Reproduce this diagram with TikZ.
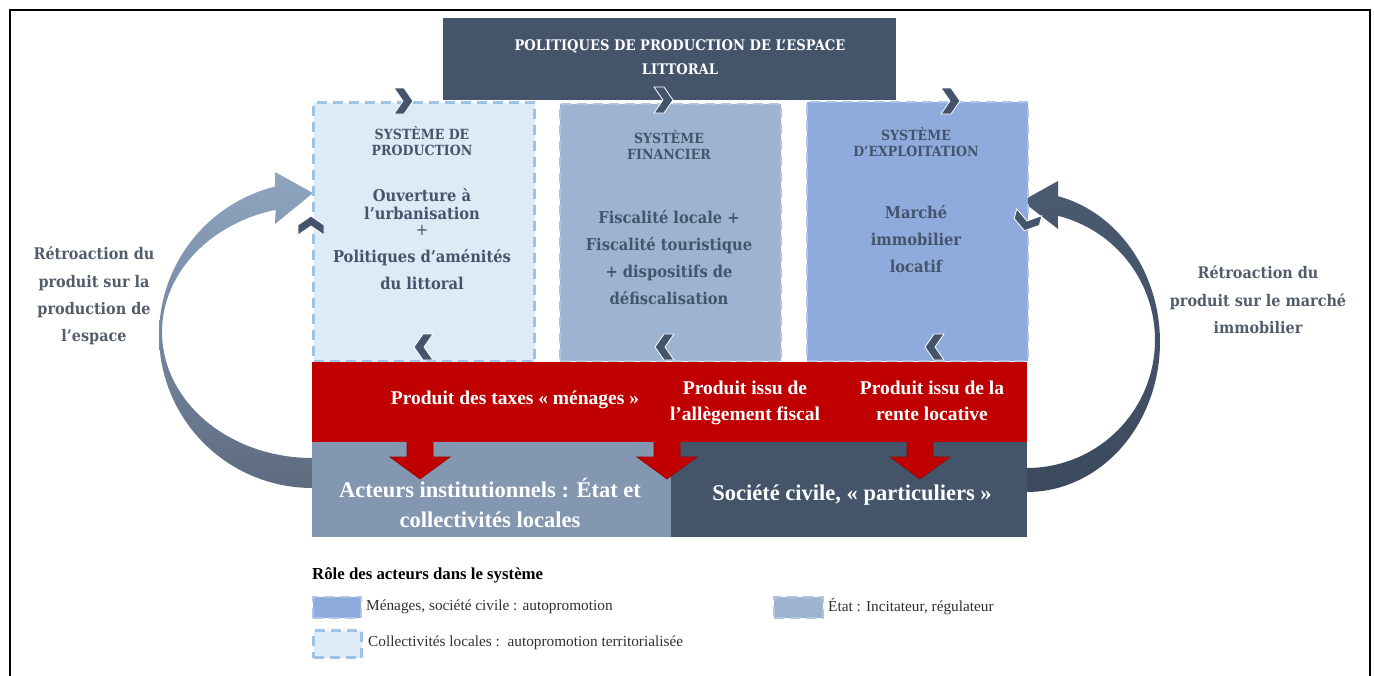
\documentclass[tikz,border=0pt]{standalone}
\usepackage{fontspec}
\setmainfont{Liberation Serif}
\newfontfamily\geo[FakeStretch=0.9]{DejaVu Serif}
\definecolor{slate}{HTML}{44546A}
\definecolor{sidegray}{HTML}{525C6B}
\definecolor{bAfill}{HTML}{DEEAF6}
\definecolor{bAline}{HTML}{9DC3E6}
\definecolor{bBfill}{HTML}{9CB4D1}
\definecolor{bBline}{HTML}{B0C5DE}
\definecolor{bCfill}{HTML}{8FAADC}
\definecolor{bCline}{HTML}{AFC4E8}
\definecolor{redband}{HTML}{C00000}
\definecolor{rededge}{HTML}{9A0000}
\definecolor{botL}{HTML}{8497B0}
\definecolor{botR}{HTML}{44546A}
\definecolor{arrLtop}{HTML}{8FA5C0}
\definecolor{arrLbot}{HTML}{5D6B80}
\definecolor{arrRtop}{HTML}{4A5A70}
\definecolor{arrRbot}{HTML}{3C4A5E}
\definecolor{legtext}{HTML}{303030}
\begin{document}
\begin{tikzpicture}[x=1pt,y=-1pt,
  panel/.style={rectangle, inner sep=0pt, anchor=north west},
  lbl/.style={inner sep=0pt, align=center},
  boxhead/.style={lbl, text=slate, font=\geo\bfseries\fontsize{14}{15.5}\selectfont},
  boxbody/.style={lbl, text=slate, font=\geo\bfseries\fontsize{16.3}{27}\selectfont},
  sidetext/.style={lbl, text=sidegray, font=\geo\bfseries\fontsize{16}{27.3}\selectfont},
  redtext/.style={lbl, text=white, font=\bfseries\fontsize{19.5}{26}\selectfont},
  bottext/.style={lbl, text=white, font=\bfseries\fontsize{22.5}{30}\selectfont},
  legtxt/.style={inner sep=0pt, anchor=west, text=legtext, font=\fontsize{15.3}{17}\selectfont},
  chevfill/.style={fill=slate, draw=white, line width=0.8pt},
  redarrow/.style={fill=redband, draw=rededge, line width=0.6pt},
  chevpic/.pic={\path[chevfill] (-9,-13) -- (1,-13) -- (10,0) -- (1,13) -- (-9,13) -- (0,0) -- cycle;}
]
\useasboundingbox (0,0) rectangle (1374,675);
\draw[line width=1.6pt, black] (10,690) -- (10,10) -- (1370,10) -- (1370,690);

% feedback arrows (behind panels)
\shade[top color=arrLtop, bottom color=arrLbot]
  plot[domain=104:270, samples=70] ({312+153*cos(374-\x)}, {335-153*sin(374-\x)})
  -- (275,172) -- (313,193) -- (275,224)
  -- plot[domain=104:270, samples=70] ({312+150*cos(\x)}, {332-126*sin(\x)})
  -- cycle;
\shade[top color=arrRtop, bottom color=arrRbot]
  plot[domain=-90:76.5, samples=70] ({1027+133*cos(\x)}, {342-150*sin(\x)})
  -- (1058,181) -- (1022,201) -- (1058,229)
  -- plot[domain=-90:76, samples=70] ({1027+128*cos(-14-\x)}, {340-128*sin(-14-\x)})
  -- cycle;

% system panels
\node[panel, fill=bAfill, draw=bAline, line width=3pt, dash pattern=on 10pt off 6pt,
      minimum width=221pt, minimum height=259pt] (sp) at (312,101) {};
\node[panel, fill=bBfill, draw=bBline, line width=2pt, dash pattern=on 10pt off 6pt,
      minimum width=221pt, minimum height=257pt] (sf) at (559,103) {};
\node[panel, fill=bCfill, draw=bCline, line width=2pt, dash pattern=on 10pt off 6pt,
      minimum width=221pt, minimum height=259pt] (se) at (806,101) {};

% title
\node[panel, fill=slate, minimum width=453pt, minimum height=82pt] (tb) at (443,18) {};
\node[lbl, text=white, font=\geo\bfseries\fontsize{14.6}{24}\selectfont] (title) at (680,57)
  {POLITIQUES DE PRODUCTION DE L’ESPACE\\LITTORAL};

% red band and actor boxes
\node[panel, fill=redband, minimum width=715pt, minimum height=80pt] (rb) at (312,362) {};
\node[panel, fill=botL, minimum width=359pt, minimum height=95pt] (bl) at (312,442) {};
\node[panel, fill=botR, minimum width=356pt, minimum height=95pt] (br) at (671,442) {};

% red down arrows
\foreach \ax in {420,667,920}{
  \path[redarrow, shift={(\ax,0)}] (-13,440) -- (13,440) -- (13,457) -- (30,457) -- (0,479)
     -- (-30,457) -- (-13,457) -- cycle;
}
\fill[redband] (313,436) rectangle (1026,442);

% chevrons
\pic at (403,101) {chevpic};
\pic at (663,100) {chevpic};
\pic at (950,101) {chevpic};
\pic[rotate=180] at (424,347) {chevpic};
\pic[rotate=180] at (665,347) {chevpic};
\pic[rotate=180] at (935,347) {chevpic};
\pic[rotate=90] at (311,226) {chevpic};
\pic[rotate=-105] at (1027,221) {chevpic};

% panel texts
\node[boxhead] (sph) at (422,141) {SYSTÈME DE\\PRODUCTION};
\node[boxbody, font=\geo\bfseries\fontsize{16.3}{18}\selectfont] (spb1) at (422,204) {Ouverture à\\l’urbanisation};
\node[boxbody, font=\geo\fontsize{16.3}{18}\selectfont] (spplus) at (422,230) {+};
\node[boxbody] (spb2) at (422,270) {Politiques d’aménités\\du littoral};

\node[boxhead] (sfh) at (669,145) {SYSTÈME\\FINANCIER};
\node[boxbody] (sfb) at (669,258) {Fiscalité locale +\\Fiscalité touristique\\+ dispositifs de\\défiscalisation};

\node[boxhead] (seh) at (916,142) {SYSTÈME\\D’EXPLOITATION};
\node[boxbody] (seb) at (916,239) {Marché\\immobilier\\locatif};

% side texts
\node[sidetext] (lt) at (94,296) {Rétroaction du\\produit sur la\\production de\\l’espace};
\node[sidetext] (rt) at (1258,300) {Rétroaction du\\produit sur le marché\\immobilier};

% red band texts
\node[redtext] (r1) at (515,400) {Produit des taxes « ménages »};
\node[redtext] (r2) at (745,403) {Produit issu de\\l’allègement fiscal};
\node[redtext] (r3) at (932,401) {Produit issu de la\\rente locative};

% actor texts
\node[bottext] (blt) at (490,503) {Acteurs institutionnels : État et\\collectivités locales};
\node[bottext] (brt) at (852,495) {Société civile, « particuliers »};

% legend
\node[inner sep=0pt, anchor=west, text=black, font=\bfseries\fontsize{16.8}{18}\selectfont] (legt) at (312,575) {Rôle des acteurs dans le système};
\node[panel, fill=bCfill, draw=bCline, line width=1.5pt, dash pattern=on 10pt off 6pt,
      minimum width=48pt, minimum height=21pt] (sw1) at (312,596) {};
\node[legtxt] (lg1) at (366,606.5) {Ménages, société civile : autopromotion};
\node[panel, fill=bAfill, draw=bAline, line width=3pt, dash pattern=on 10pt off 6pt,
      minimum width=48pt, minimum height=27pt] (sw2) at (312,629) {};
\node[legtxt] (lg2) at (368,643) {Collectivités locales :\ \ autopromotion territorialisée};
\node[panel, fill=bBfill, draw=bBline, line width=1.5pt, dash pattern=on 10pt off 6pt,
      minimum width=49pt, minimum height=21pt] (sw3) at (773,596) {};
\node[legtxt] (lg3) at (828,606.5) {État : Incitateur, régulateur};
\end{tikzpicture}
\end{document}
